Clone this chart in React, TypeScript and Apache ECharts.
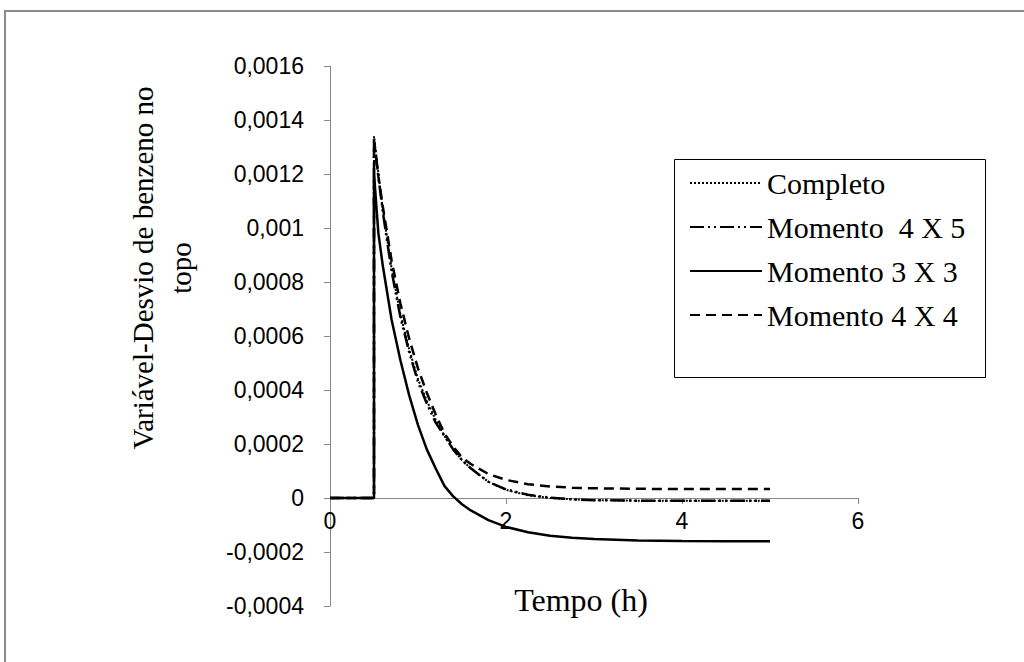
import React, { useEffect, useRef } from "react";
import * as echarts from "echarts";

// Time (h)
const times = [0, 0.5, 0.5, 0.55, 0.6, 0.7, 0.8, 0.9, 1.0, 1.1, 1.2, 1.3, 1.4, 1.5, 1.6, 1.8, 2.0, 2.25, 2.5, 2.75, 3.0, 3.5, 4.0, 4.5, 5.0];

const completo = [0, 0, 0.00134, 0.0012, 0.00107, 0.00085, 0.00068, 0.00055, 0.00044, 0.00036, 0.00029, 0.00023, 0.00018, 0.00014, 0.00011, 0.00006, 0.00003, 0.00001, 0, -0.000005, -0.000008, -0.00001, -0.00001, -0.00001, -0.00001];
const momento45 = [0, 0, 0.00133, 0.00119, 0.00106, 0.00084, 0.00067, 0.00054, 0.00043, 0.00035, 0.00028, 0.00023, 0.00018, 0.00014, 0.00011, 0.00006, 0.000032, 0.000012, 0.000001, -0.000005, -0.000008, -0.00001, -0.00001, -0.00001, -0.00001];
const momento33 = [0, 0, 0.0012, 0.00098, 0.00086, 0.00066, 0.00051, 0.00038, 0.00027, 0.00018, 0.00011, 0.000045, 0.000006, -0.000023, -0.000046, -0.000082, -0.000107, -0.000127, -0.00014, -0.000147, -0.000152, -0.000157, -0.000159, -0.00016, -0.00016];
const momento44 = [0, 0, 0.00132, 0.00119, 0.00108, 0.00088, 0.00072, 0.00059, 0.00048, 0.00039, 0.00031, 0.00024, 0.00019, 0.00015, 0.000126, 0.000089, 0.000067, 0.000051, 0.000043, 0.000038, 0.000036, 0.000034, 0.000033, 0.000033, 0.000033];

const seriesNames = ["Completo", "Momento  4 X 5", "Momento 3 X 3", "Momento 4 X 4"];
const xTitle = "Tempo (h)";
const yTitleLines = ["Variável-Desvio de benzeno no", "topo"];

const pair = (vals: number[]) => times.map((t, i) => [t, vals[i]]);

const fmt = (v: number) => {
  const n = parseFloat(v.toFixed(4));
  return (Object.is(n, -0) ? 0 : n).toString().replace(".", ",");
};

export default function App() {
  const ref = useRef<HTMLDivElement>(null);
  useEffect(() => {
    if (!ref.current) return;
    const chart = echarts.init(ref.current, null, { renderer: "svg" });
    const axisGray = "#888888";
    const serif = "Liberation Serif";
    chart.setOption({
      animation: false,
      backgroundColor: "#ffffff",
      grid: { left: 330, top: 66, width: 528, height: 540, containLabel: false },
      xAxis: {
        type: "value",
        min: 0,
        max: 6,
        interval: 2,
        axisLine: { show: true, onZero: true, lineStyle: { color: axisGray, width: 1 } },
        axisTick: { show: true, length: 6, inside: false, lineStyle: { color: axisGray } },
        axisLabel: { color: "#000", fontFamily: "Liberation Sans", fontSize: 23, margin: -97 },
        splitLine: { show: false },
      },
      yAxis: {
        type: "value",
        min: -0.0004,
        max: 0.0016,
        interval: 0.0002,
        axisLine: { show: true, onZero: false, lineStyle: { color: axisGray, width: 1 } },
        axisTick: { show: true, length: 6, lineStyle: { color: axisGray } },
        axisLabel: { color: "#000", fontFamily: "Liberation Sans", fontSize: 23, margin: 26, formatter: fmt },
        splitLine: { show: false },
      },
      legend: {
        orient: "vertical",
        left: 689,
        top: 168,
        itemWidth: 72,
        itemHeight: 14,
        itemGap: 14,
        padding: 0,
        data: seriesNames,
        itemStyle: { opacity: 0, borderWidth: 0 },
        textStyle: { fontFamily: serif, fontSize: 30, lineHeight: 30, color: "#000" },
      },
      graphic: [
        {
          type: "rect",
          z: -10,
          shape: { x: 5, y: 11, width: 1040, height: 700 },
          style: { fill: "#fff", stroke: "#8a8a8a", lineWidth: 2 },
          silent: true,
        },
        {
          type: "rect",
          z: 1,
          shape: { x: 674.5, y: 159.5, width: 311, height: 218 },
          style: { fill: "#fff", stroke: "#000", lineWidth: 1 },
          silent: true,
        },
        {
          type: "group",
          x: 162,
          y: 268,
          rotation: Math.PI / 2,
          children: [
            {
              type: "text",
              x: 0,
              y: -19,
              style: {
                text: yTitleLines[0],
                fontFamily: serif,
                fontSize: 29,
                align: "center",
                verticalAlign: "middle",
                fill: "#000",
              },
            },
            {
              type: "text",
              x: 0,
              y: 19,
              style: {
                text: yTitleLines[1],
                fontFamily: serif,
                fontSize: 29,
                align: "center",
                verticalAlign: "middle",
                fill: "#000",
              },
            },
          ],
        },
        {
          type: "text",
          x: 581,
          y: 600,
          style: {
            text: xTitle,
            fontFamily: serif,
            fontSize: 32,
            align: "center",
            verticalAlign: "middle",
            fill: "#000",
          },
        },
      ],
      series: [
        {
          name: seriesNames[0],
          type: "line",
          data: pair(completo),
          showSymbol: false,
          symbol: "none",
          lineStyle: { color: "#000", width: 2, type: [2, 2] },
          itemStyle: { color: "#000" },
          z: 3,
        },
        {
          name: seriesNames[1],
          type: "line",
          data: pair(momento45),
          showSymbol: false,
          symbol: "none",
          lineStyle: { color: "#000", width: 2.5, type: [14, 4, 2, 4, 2, 4] },
          itemStyle: { color: "#000" },
          z: 4,
        },
        {
          name: seriesNames[2],
          type: "line",
          data: pair(momento33),
          showSymbol: false,
          symbol: "none",
          lineStyle: { color: "#000", width: 2.5, type: "solid" },
          itemStyle: { color: "#000" },
          z: 5,
        },
        {
          name: seriesNames[3],
          type: "line",
          data: pair(momento44),
          showSymbol: false,
          symbol: "none",
          lineStyle: { color: "#000", width: 2.5, type: [10, 6] },
          itemStyle: { color: "#000" },
          z: 6,
        },
      ],
    });
    return () => chart.dispose();
  }, []);
  return <div ref={ref} style={{ position: "fixed", left: 0, top: 0, width: 1024, height: 662 }} />;
}
